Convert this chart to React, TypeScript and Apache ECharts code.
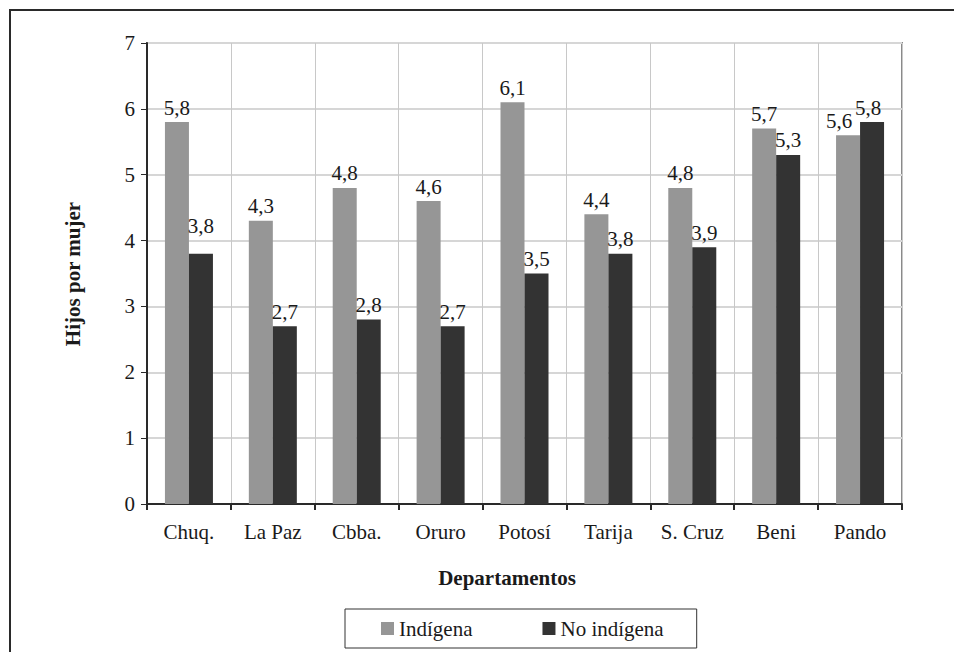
import React, { useEffect, useRef } from "react";
import * as echarts from "echarts";

const departamentos = ["Chuq.", "La Paz", "Cbba.", "Oruro", "Potosí", "Tarija", "S. Cruz", "Beni", "Pando"];
const indigena = [5.8, 4.3, 4.8, 4.6, 6.1, 4.4, 4.8, 5.7, 5.6];
const noIndigena = [3.8, 2.7, 2.8, 2.7, 3.5, 3.8, 3.9, 5.3, 5.8];
const yTicks = [0, 1, 2, 3, 4, 5, 6, 7];

const FONT = "Liberation Serif";

export default function App() {
  const ref = useRef<HTMLDivElement>(null);

  useEffect(() => {
    if (!ref.current) return;
    const chart = echarts.init(ref.current, undefined, { renderer: "svg" });

    const labelBase = {
      show: true,
      position: "top" as const,
      distance: 4,
      fontFamily: FONT,
      fontSize: 21,
      color: "#1a1a1a",
      formatter: (p: any) => String(p.value).replace(".", ","),
    };

    // a few labels are nudged so they don't crowd the neighbouring bar
    const indOffsets: Record<number, number[]> = { 8: [-9, 0] };
    const noOffsets: Record<number, number[]> = { 0: [0, -13], 8: [-4, 0] };
    const indData = indigena.map((v, i) =>
      indOffsets[i] ? { value: v, label: { offset: indOffsets[i] } } : v
    );
    const noData = noIndigena.map((v, i) =>
      noOffsets[i] ? { value: v, label: { offset: noOffsets[i] } } : v
    );

    chart.setOption({
      animation: false,
      backgroundColor: "#ffffff",
      textStyle: { fontFamily: FONT },
      grid: {
        left: 147,
        top: 43,
        right: 52,
        bottom: 148,
        show: true,
        borderColor: "#8a8a8a",
        borderWidth: 2,
      },
      legend: {
        left: 345,
        top: 609,
        width: 354,
        icon: "rect",
        itemWidth: 13,
        itemHeight: 13,
        itemGap: 70,
        padding: [9, 33, 9, 36],
        borderColor: "#333333",
        borderWidth: 1,
        textStyle: { fontFamily: FONT, fontSize: 21, color: "#1a1a1a" },
        data: ["Indígena", "No indígena"],
      },
      xAxis: {
        type: "category",
        data: departamentos,
        boundaryGap: true,
        axisLine: { lineStyle: { color: "#2a2a2a", width: 2 } },
        axisTick: { show: true, length: 6, lineStyle: { color: "#2a2a2a", width: 2 } },
        axisLabel: { fontFamily: FONT, fontSize: 21, color: "#1a1a1a", margin: 17 },
        splitLine: { show: true, lineStyle: { color: "#c8c8c8", width: 1 } },
      },
      yAxis: {
        type: "value",
        min: yTicks[0],
        max: yTicks[yTicks.length - 1],
        interval: 1,
        axisLine: { show: true, lineStyle: { color: "#2a2a2a", width: 2 } },
        axisTick: { show: true, length: 6, lineStyle: { color: "#2a2a2a", width: 1 } },
        axisLabel: { fontFamily: FONT, fontSize: 21, color: "#1a1a1a", margin: 12 },
        splitLine: { show: true, lineStyle: { color: "#d6d6d6", width: 2 } },
      },
      series: [
        {
          name: "Indígena",
          type: "bar",
          data: indData,
          barWidth: 24,
          barGap: "0%",
          itemStyle: { color: "#969696" },
          label: labelBase,
        },
        {
          name: "No indígena",
          type: "bar",
          data: noData,
          barWidth: 24,
          itemStyle: { color: "#333333" },
          label: labelBase,
        },
      ],
      graphic: [
        {
          type: "rect",
          silent: true,
          shape: { x: 10, y: 10, width: 1000, height: 1000 },
          style: { fill: "none", stroke: "#2a2a2a", lineWidth: 2 },
        },
        {
          type: "text",
          x: 73,
          y: 274,
          rotation: Math.PI / 2,
          style: {
            text: "Hijos por mujer",
            fontFamily: FONT,
            fontSize: 21,
            fontWeight: "bold",
            fill: "#1a1a1a",
            align: "center",
            verticalAlign: "middle",
          },
        },
        {
          type: "text",
          x: 507,
          y: 578,
          style: {
            text: "Departamentos",
            fontFamily: FONT,
            fontSize: 21,
            fontWeight: "bold",
            fill: "#1a1a1a",
            align: "center",
            verticalAlign: "middle",
          },
        },
      ],
    });

    return () => chart.dispose();
  }, []);

  return (
    <div
      ref={ref}
      style={{ position: "fixed", left: 0, top: 0, width: 954, height: 652 }}
    />
  );
}
